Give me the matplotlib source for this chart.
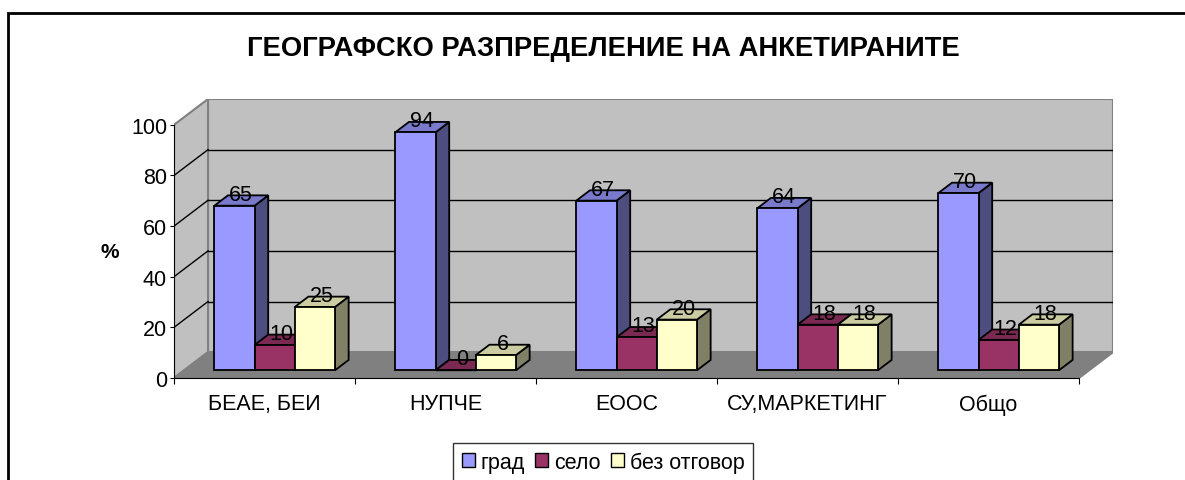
import matplotlib
matplotlib.use('Agg')
import matplotlib.pyplot as plt
from matplotlib.patches import Polygon, Rectangle, Patch

# ---- data ----
categories = ['БЕАЕ, БЕИ', 'НУПЧЕ', 'ЕООС', 'СУ,МАРКЕТИНГ', 'Общо']
series_names = ['град', 'село', 'без отговор']
grad = [65, 94, 67, 64, 70]
selo = [10, 0, 13, 18, 12]
bez_otgovor = [25, 6, 20, 18, 18]
yticks = [0, 20, 40, 60, 80, 100]
title = 'ГЕОГРАФСКО РАЗПРЕДЕЛЕНИЕ НА АНКЕТИРАНИТЕ'
ylabel = '%'

series = [grad, selo, bez_otgovor]
front_colors = ['#9999FF', '#993366', '#FFFFCC']
top_colors = ['#7A7ACC', '#7A2952', '#CCCCA3']
side_colors = ['#4D4D80', '#4D1A33', '#808066']

plt.rcParams['font.family'] = ['Liberation Sans', 'DejaVu Sans']

W, H = 1185, 481
fig = plt.figure(figsize=(W / 100, H / 100), dpi=100)
ax = fig.add_axes([174 / W, (H - 379) / H, (1113 - 174) / W, (379 - 100) / H])
n = len(categories)
DX, DY = 0.188, 10.2
ax.set_xlim(0, n + DX)
ax.set_ylim(0, 100 + DY)
ax.patch.set_visible(False)
for s in ['top', 'right']:
    ax.spines[s].set_visible(False)

wall_c = '#C0C0C0'
floor_c = '#808080'
edge_c = '#808080'
# back wall
ax.add_patch(Polygon([(DX, DY), (n + DX, DY), (n + DX, 100 + DY), (DX, 100 + DY)],
                     closed=True, facecolor=wall_c, edgecolor=edge_c, lw=1.5, zorder=1))
# left wall
ax.add_patch(Polygon([(0, 0), (0, 100), (DX, 100 + DY), (DX, DY)],
                     closed=True, facecolor=wall_c, edgecolor=edge_c, lw=1.5, zorder=1))
# floor
ax.add_patch(Polygon([(0, 0), (n, 0), (n + DX, DY), (DX, DY)],
                     closed=True, facecolor=floor_c, edgecolor=edge_c, lw=1.5, zorder=1))
# gridlines
for y in yticks[1:-1]:
    ax.plot([DX, n + DX], [y + DY, y + DY], color='black', lw=1, zorder=2)
    ax.plot([0, DX], [y, y + DY], color='black', lw=1, zorder=2)

# bars
w = 1 / (len(series) + 1.5)
ox, oy = 0.3 * DX, 0.3 * DY
bdx, bdy = 0.4 * DX, 0.4 * DY
z = 3
for i in range(n):
    for k, vals in enumerate(series):
        v = vals[i]
        x0 = i + 0.75 * w + k * w + ox
        x1 = x0 + w
        ax.add_patch(Polygon([(x1, oy), (x1 + bdx, oy + bdy), (x1 + bdx, v + oy + bdy), (x1, v + oy)],
                             closed=True, facecolor=side_colors[k], edgecolor='black', lw=1.3, zorder=z))
        ax.add_patch(Polygon([(x0, v + oy), (x1, v + oy), (x1 + bdx, v + oy + bdy), (x0 + bdx, v + oy + bdy)],
                             closed=True, facecolor=top_colors[k], edgecolor='black', lw=1.3, zorder=z))
        ax.add_patch(Rectangle((x0, oy), w, v, facecolor=front_colors[k], edgecolor='black',
                               lw=1.3, zorder=z))
        ax.text(x0 + w / 2 + bdx / 2, v + oy + bdy + 0.5, str(v), ha='center', va='center',
                fontsize=15.5, color='black', zorder=50)
        z += 1

# axes
ax.spines['left'].set_bounds(0, 100)
ax.spines['bottom'].set_bounds(0, n)
ax.spines['left'].set_zorder(40)
ax.spines['bottom'].set_zorder(40)
ax.set_yticks(yticks)
ax.set_yticklabels([str(t) for t in yticks])
ax.tick_params(axis='y', direction='out', length=3, pad=2, labelsize=15.5)
ax.set_xticks(range(n + 1))
ax.set_xticklabels([''] * (n + 1))
ax.set_xticks([i + 0.5 for i in range(n)], minor=True)
ax.set_xticklabels(categories, minor=True)
ax.tick_params(axis='x', which='major', direction='out', length=4)
ax.tick_params(axis='x', which='minor', length=0, pad=11, labelsize=15.5)

fig.text(603 / W, 1 - 49 / H, title, ha='center', va='center', fontsize=19.7, fontweight='bold')
fig.text(110 / W, 1 - 253 / H, ylabel, ha='center', va='center', fontsize=15, fontweight='bold')

# outer frame (cropped on right and bottom)
fig.add_artist(Rectangle((8 / W, -0.1), 1.2, (H - 14) / H + 0.1, transform=fig.transFigure,
                         fill=False, edgecolor='black', lw=2))

handles = [Patch(facecolor=c, edgecolor='black', lw=1) for c in front_colors]
leg = fig.legend(handles, series_names, loc='upper left', bbox_to_anchor=(453 / W, 1 - 444 / H),
                 ncol=3, frameon=True, fancybox=False, edgecolor='black', fontsize=15.5,
                 handlelength=0.6, handleheight=0.6, handletextpad=0.3, columnspacing=0.45,
                 borderpad=0.4, borderaxespad=0)
leg.get_frame().set_linewidth(1)

fig.savefig('out.png', dpi=100)
